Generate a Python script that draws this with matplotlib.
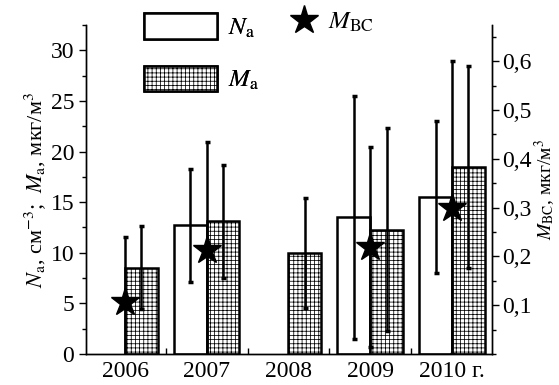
import numpy as np
import matplotlib

matplotlib.use("Agg")
import matplotlib.pyplot as plt
from matplotlib.patches import Patch
from matplotlib.lines import Line2D
from matplotlib.ticker import MultipleLocator, FixedLocator

plt.rcParams["font.family"] = ["Liberation Serif", "DejaVu Serif"]
plt.rcParams["mathtext.fontset"] = "stix"
plt.rcParams["hatch.linewidth"] = 0.55

years = ["2006", "2007", "2008", "2009", "2010 г."]
na_mean = [np.nan, 12.7, np.nan, 13.5, 15.5]
na_err = [np.nan, 5.6, np.nan, 12.0, 7.5]
ma_mean = [8.5, 13.1, 10.0, 12.3, 18.5]
ma_err = [4.1, 5.55, 5.45, 10.0, 10.0]
bc_mean = [0.107, 0.213, np.nan, 0.219, 0.300]
bc_err = [0.132, 0.222, np.nan, 0.205, 0.300]

x = np.arange(len(years))
w = 0.4
fs = 17

fig = plt.figure(figsize=(5.59, 3.85), dpi=100)
ax = fig.add_axes([0.154, 0.0805, 0.726, 0.8545])
ax2 = ax.twinx()

ax.bar(x - w / 2, na_mean, w, facecolor="white", edgecolor="black", linewidth=1.8, zorder=2)
ax.bar(x + w / 2, ma_mean, w, facecolor="white", edgecolor="black", linewidth=1.8,
       hatch="++++", zorder=2)

eb = dict(fmt="none", ecolor="black", elinewidth=1.8, capsize=1.8, capthick=2.5, zorder=3)
ax.errorbar(x - w / 2, na_mean, yerr=na_err, **eb)
_, caps, _ = ax.errorbar(x + w / 2, ma_mean, yerr=ma_err, **eb)
for c in caps:
    c.set_color("#8a8a8a")

ax2.errorbar(x, bc_mean, yerr=bc_err, **eb)
ax2.plot(x, bc_mean, "*", color="black", ms=21, linestyle="none", zorder=4)

ax.set_xlim(-0.477, 4.49)
ax.set_ylim(0, 32.5)
ax2.set_ylim(0, 0.674)

ax.set_xticks(x)
ax.set_xticklabels(years, fontsize=fs)
ax.xaxis.set_minor_locator(FixedLocator(x[:-1] + 0.5))
ax.tick_params(axis="x", which="major", length=0, pad=5)
ax.tick_params(axis="x", which="minor", direction="in", length=4, width=1)

ax.yaxis.set_major_locator(MultipleLocator(5))
ax.yaxis.set_minor_locator(MultipleLocator(2.5))
ax.tick_params(axis="y", which="major", direction="out", length=5, width=1, labelsize=fs)
ax.tick_params(axis="y", which="minor", direction="out", length=3, width=1)

ax2.yaxis.set_major_locator(FixedLocator([0.1, 0.2, 0.3, 0.4, 0.5, 0.6]))
ax2.set_yticklabels(["0,1", "0,2", "0,3", "0,4", "0,5", "0,6"])
ax2.yaxis.set_minor_locator(MultipleLocator(0.05))
ax2.tick_params(axis="y", which="major", direction="out", length=5, width=1, labelsize=fs,
                pad=2)
ax2.tick_params(axis="y", which="minor", direction="out", length=3, width=1)

for a in (ax, ax2):
    a.spines["top"].set_visible(False)
    for s in ("left", "right", "bottom"):
        a.spines[s].set_linewidth(1.0)

ax.set_ylabel(r"$N_\mathrm{a}$, см$^{-3}$;  $M_\mathrm{a}$, мкг/м$^3$", fontsize=16, labelpad=2)
ax2.set_ylabel(r"$M_\mathrm{BC}$, мкг/м$^3$", fontsize=14, labelpad=1)

h_na = Patch(facecolor="white", edgecolor="black", linewidth=1.8)
h_ma = Patch(facecolor="white", edgecolor="black", linewidth=1.8, hatch="++++")
leg1 = ax.legend([h_na, h_ma], [r"$N_\mathrm{a}$", r"$M_\mathrm{a}$"], loc="upper left",
                 bbox_to_anchor=(144 / 559, 1 - 13 / 385), bbox_transform=fig.transFigure,
                 frameon=False, fontsize=18, handlelength=2.9, handleheight=1.2,
                 labelspacing=1.05, borderpad=0, borderaxespad=0, handletextpad=0.45)
ax.add_artist(leg1)
h_bc = Line2D([], [], marker="*", color="black", ms=21, linestyle="none")
ax2.legend([h_bc], [r"$M_\mathrm{BC}$"], loc="upper left",
           bbox_to_anchor=(288 / 559, 1 - 11 / 385), bbox_transform=fig.transFigure,
           frameon=False, fontsize=18, handlelength=1.3, borderpad=0, borderaxespad=0,
           handletextpad=0.3)

fig.savefig("out.png", dpi=100)
